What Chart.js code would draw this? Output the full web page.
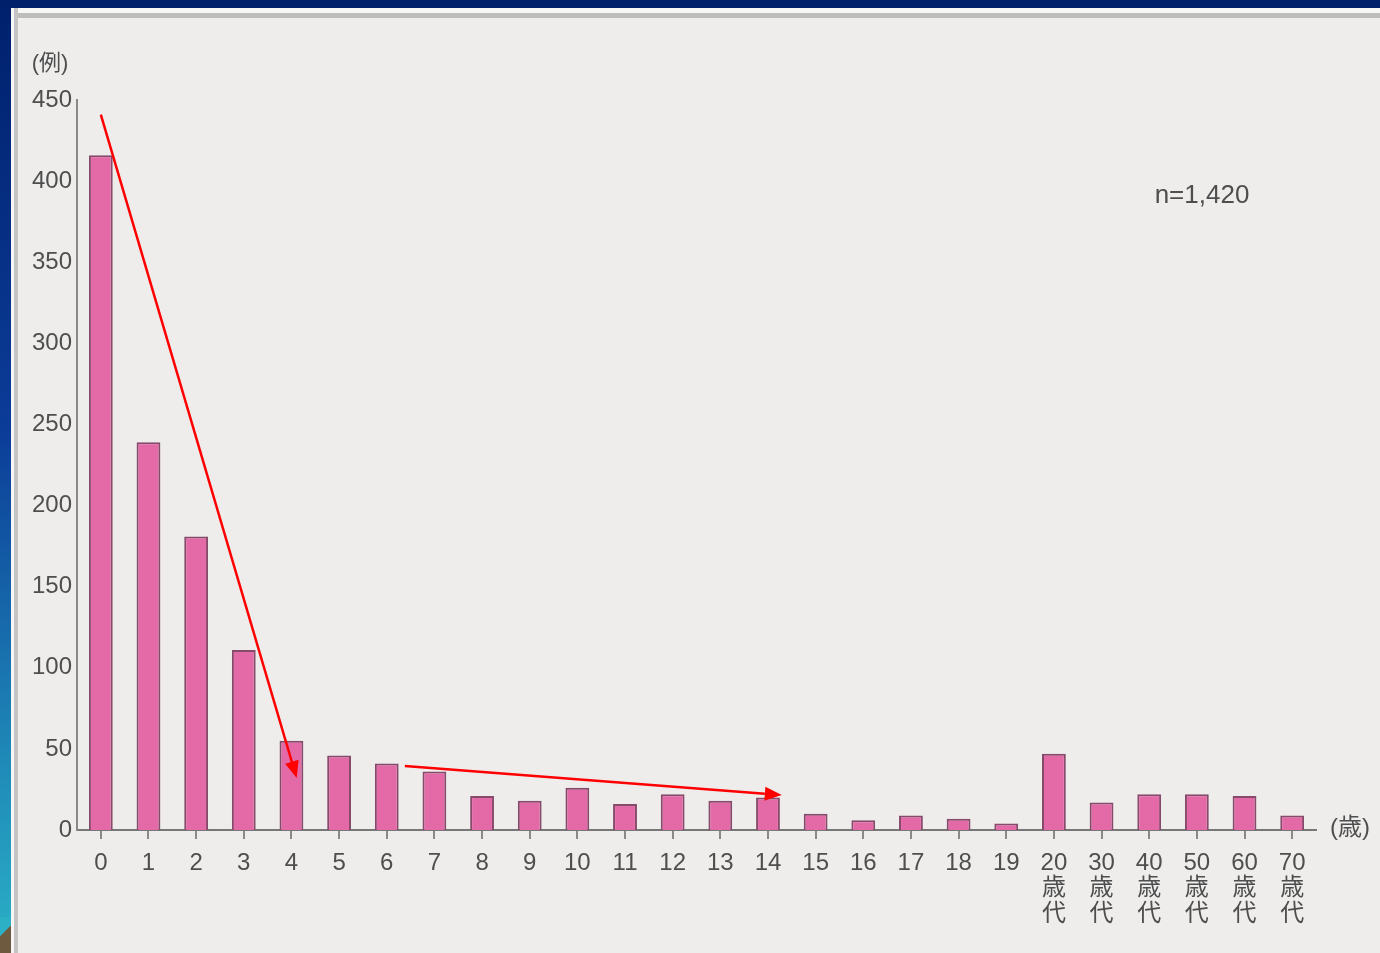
<!DOCTYPE html>
<html>
<head>
<meta charset="utf-8">
<script src="https://cdn.jsdelivr.net/npm/chart.js@4/dist/chart.umd.min.js"></script>
<style>
  html, body { margin: 0; padding: 0; }
  body {
    width: 1380px; height: 953px; overflow: hidden; position: relative;
    background: linear-gradient(to bottom, #00206c 0%, #0b3c98 45%, #1f8ab8 80%, #2bb0c6 100%);
  }
  #paper {
    position: absolute; left: 11px; top: 8px; right: 0; bottom: 0;
    background: #eeedec;
    border-left: 3px solid #f6f6f6;
    box-shadow: inset 4px 0 0 #c4c4c4, inset 0 5px 0 #f7f7f5, inset 0 10px 0 #bdbdbb;
  }
  #corner {
    position: absolute; left: 0; bottom: 0; width: 11px; height: 36px;
    background: linear-gradient(135deg, #2bb0c6 40%, #6e5a3e 42%);
  }
  #chartCanvas { position: absolute; left: 0; top: 0; }
</style>
</head>
<body>
<div id="paper"></div>
<div id="corner"></div>
<canvas id="chartCanvas" width="1380" height="953"></canvas>
<script>
// 年齢別の症例数
const ageLabels = ['0','1','2','3','4','5','6','7','8','9','10','11','12','13','14','15','16','17','18','19',
  ['20','歳','代'], ['30','歳','代'], ['40','歳','代'], ['50','歳','代'], ['60','歳','代'], ['70','歳','代']];
const caseCounts = [416, 239, 181, 111, 55, 46, 41, 36, 21, 18, 26, 16, 22, 18, 20, 10, 6, 9, 7, 4, 47, 17, 22, 22, 21, 9];

// 矢印（カテゴリ位置, 値）
const arrowFrom = [[0, 441], [6.38, 39.5]];
const arrowTo   = [[4.11, 32], [14.29, 21.6]];

const fontFamily = "'Liberation Sans', 'Noto Sans CJK JP', sans-serif";
const textColor = '#4e4e4e';

const extras = {
  id: 'extras',
  afterDraw(chart) {
    const ctx = chart.ctx;
    const x = chart.scales.x, y = chart.scales.y;
    ctx.save();
    // 単位・件数
    ctx.fillStyle = textColor;
    ctx.textBaseline = 'middle';
    ctx.textAlign = 'center';
    ctx.font = "22px " + fontFamily;
    ctx.fillText('(例)', 50, 64);
    ctx.font = "24px " + fontFamily;
    ctx.fillText('(歳)', 1350, 828);
    ctx.font = "26px " + fontFamily;
    ctx.fillText('n=1,420', 1202, 196);

    // 赤い矢印
    ctx.strokeStyle = '#ff0000';
    ctx.fillStyle = '#ff0000';
    ctx.lineWidth = 2.5;
    for (let i = 0; i < arrowFrom.length; i++) {
      const x1 = x.getPixelForValue(arrowFrom[i][0]), y1 = y.getPixelForValue(arrowFrom[i][1]);
      const x2 = x.getPixelForValue(arrowTo[i][0]), y2 = y.getPixelForValue(arrowTo[i][1]);
      const ang = Math.atan2(y2 - y1, x2 - x1);
      const head = 17, half = 7;
      const bx = x2 - head * Math.cos(ang), by = y2 - head * Math.sin(ang);
      ctx.beginPath();
      ctx.moveTo(x1, y1);
      ctx.lineTo(bx, by);
      ctx.stroke();
      ctx.beginPath();
      ctx.moveTo(x2, y2);
      ctx.lineTo(bx + half * Math.sin(ang), by - half * Math.cos(ang));
      ctx.lineTo(bx - half * Math.sin(ang), by + half * Math.cos(ang));
      ctx.closePath();
      ctx.fill();
    }
    ctx.restore();
  }
};

new Chart(document.getElementById('chartCanvas').getContext('2d'), {
  type: 'bar',
  data: {
    labels: ageLabels,
    datasets: [{
      data: caseCounts,
      backgroundColor: '#e46aa7',
      borderColor: '#864a6a',
      borderWidth: 2,
      barPercentage: 0.5,
      categoryPercentage: 1.0
    }]
  },
  options: {
    responsive: false,
    animation: false,
    layout: { padding: { left: 0, right: 64, top: 100, bottom: 0 } },
    plugins: { legend: { display: false }, tooltip: { enabled: false } },
    scales: {
      x: {
        afterFit(scale) { scale.height = 123; },
        grid: { offset: false, drawOnChartArea: false, drawTicks: true, tickLength: 9, color: '#8a8a8a', lineWidth: 2 },
        border: { display: true, color: '#777777', width: 2 },
        ticks: {
          color: textColor, padding: 12, maxRotation: 0, autoSkip: false,
          font: { family: fontFamily, size: 24, lineHeight: 1.05 }
        }
      },
      y: {
        min: 0, max: 450,
        afterFit(scale) { scale.width = 77; },
        grid: { display: false, drawTicks: false, tickLength: 0 },
        border: { display: true, color: '#888888', width: 2 },
        ticks: {
          stepSize: 50, color: textColor, padding: 5,
          font: { family: fontFamily, size: 24 }
        }
      }
    }
  },
  plugins: [extras]
});
</script>
</body>
</html>
